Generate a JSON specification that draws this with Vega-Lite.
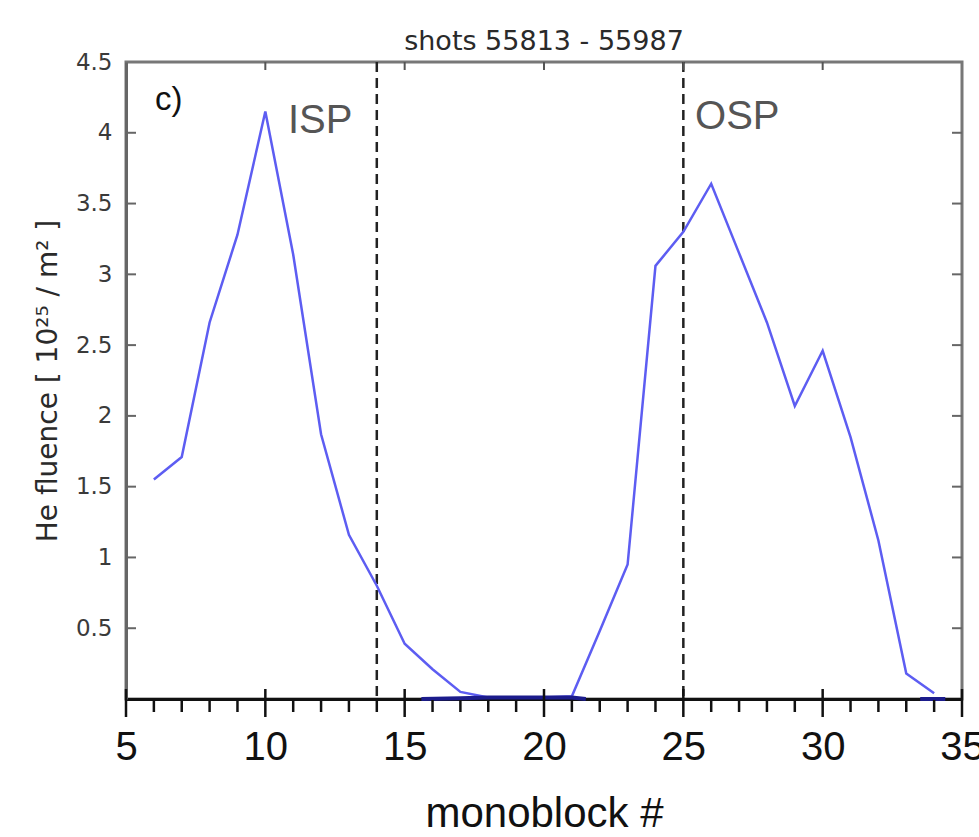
{
  "$schema": "https://vega.github.io/schema/vega-lite/v6.json",
  "width": 836,
  "height": 637,
  "autosize": {"type": "none"},
  "padding": {"left": 126, "top": 62, "right": 17, "bottom": 138},
  "background": "white",
  "title": {"text": "shots 55813 - 55987", "font": "DejaVu Sans", "fontSize": 27, "fontWeight": "normal", "color": "#2a2a2a", "offset": -5, "anchor": "middle"},
  "config": {
    "view": {"stroke": "#777777", "strokeWidth": 3},
    "axis": {"grid": false}
  },
  "datasets": {
    "main": [
      {"m": 6, "f": 1.55}, {"m": 7, "f": 1.71}, {"m": 8, "f": 2.66}, {"m": 9, "f": 3.28},
      {"m": 10, "f": 4.15}, {"m": 11, "f": 3.14}, {"m": 12, "f": 1.87}, {"m": 13, "f": 1.16},
      {"m": 14, "f": 0.8}, {"m": 15, "f": 0.39}, {"m": 16, "f": 0.21}, {"m": 17, "f": 0.05},
      {"m": 18, "f": 0.01}, {"m": 19, "f": 0.01}, {"m": 20, "f": 0.01}, {"m": 21, "f": 0.02},
      {"m": 22, "f": 0.48}, {"m": 23, "f": 0.95}, {"m": 24, "f": 3.06}, {"m": 25, "f": 3.3},
      {"m": 26, "f": 3.64}, {"m": 27, "f": 3.15}, {"m": 28, "f": 2.66}, {"m": 29, "f": 2.07},
      {"m": 30, "f": 2.46}, {"m": 31, "f": 1.85}, {"m": 32, "f": 1.12}, {"m": 33, "f": 0.18},
      {"m": 34, "f": 0.04}
    ],
    "low": [
      {"m": 15.6, "f": 0, "seg": "a"}, {"m": 17, "f": 0.005, "seg": "a"}, {"m": 18, "f": 0.01, "seg": "a"},
      {"m": 19, "f": 0.01, "seg": "a"}, {"m": 20, "f": 0.01, "seg": "a"}, {"m": 21, "f": 0.01, "seg": "a"},
      {"m": 21.5, "f": 0, "seg": "a"},
      {"m": 33.5, "f": 0, "seg": "b"}, {"m": 34.4, "f": 0, "seg": "b"}
    ],
    "rules": [{"m": 14}, {"m": 25}],
    "big": [
      {"t": "ISP", "m": 10.81, "f": 4.085},
      {"t": "OSP", "m": 25.42, "f": 4.11}
    ],
    "panel": [{"t": "c)", "m": 6.04, "f": 4.23}],
    "xmaj": [{"m": 5}, {"m": 10}, {"m": 15}, {"m": 20}, {"m": 25}, {"m": 30}, {"m": 35}],
    "xmin": [
      {"m": 6}, {"m": 7}, {"m": 8}, {"m": 9}, {"m": 11}, {"m": 12}, {"m": 13}, {"m": 14},
      {"m": 16}, {"m": 17}, {"m": 18}, {"m": 19}, {"m": 21}, {"m": 22}, {"m": 23}, {"m": 24},
      {"m": 26}, {"m": 27}, {"m": 28}, {"m": 29}, {"m": 31}, {"m": 32}, {"m": 33}, {"m": 34}
    ],
    "xtop": [{"m": 10}, {"m": 15}, {"m": 20}, {"m": 25}, {"m": 30}],
    "yt": [{"f": 0.5}, {"f": 1}, {"f": 1.5}, {"f": 2}, {"f": 2.5}, {"f": 3}, {"f": 3.5}, {"f": 4}]
  },
  "layer": [
    {
      "data": {"name": "rules"},
      "mark": {"type": "rule", "color": "#222222", "strokeWidth": 2.5, "strokeDash": [10, 6]},
      "encoding": {
        "x": {"field": "m", "type": "quantitative"}
      }
    },
    {
      "data": {"name": "main"},
      "mark": {"type": "line", "color": "#5d5df2", "strokeWidth": 2.5},
      "encoding": {
        "x": {
          "field": "m", "type": "quantitative",
          "scale": {"domain": [5, 35], "nice": false, "zero": false},
          "axis": {
            "orient": "bottom",
            "values": [5, 10, 15, 20, 25, 30, 35],
            "domainColor": "#111111", "domainWidth": 3,
            "ticks": false, "tickSize": 0,
            "labelFont": "Liberation Sans", "labelFontSize": 40, "labelColor": "#111111", "labelPadding": 28,
            "labelFlush": false, "labelOverlap": false,
            "title": "monoblock #", "titleFont": "Liberation Sans", "titleFontSize": 42, "titleFontWeight": "normal",
            "titleColor": "#111111", "titlePadding": 26
          }
        },
        "y": {
          "field": "f", "type": "quantitative",
          "scale": {"domain": [0, 4.5], "nice": false, "zero": false},
          "axis": {
            "orient": "left",
            "values": [0.5, 1, 1.5, 2, 2.5, 3, 3.5, 4, 4.5],
            "format": "~g",
            "domainColor": "#666666", "domainWidth": 3,
            "ticks": false, "tickSize": 0,
            "labelFont": "DejaVu Sans", "labelFontSize": 23, "labelColor": "#3a3a3a", "labelPadding": 14,
            "labelFlush": false, "labelOverlap": false,
            "title": "He fluence [ 10²⁵ / m² ]", "titleFont": "DejaVu Sans", "titleFontSize": 28,
            "titleFontWeight": "normal", "titleColor": "#2a2a2a", "titlePadding": 13
          }
        }
      }
    },
    {
      "data": {"name": "low"},
      "mark": {"type": "line", "color": "#1c1c8c", "strokeWidth": 4},
      "encoding": {
        "x": {"field": "m", "type": "quantitative"},
        "y": {"field": "f", "type": "quantitative"},
        "detail": {"field": "seg"}
      }
    },
    {
      "data": {"name": "xmaj"},
      "mark": {"type": "tick", "orient": "vertical", "color": "#111111", "thickness": 2.5, "size": 28, "yOffset": 4, "opacity": 1},
      "encoding": {
        "x": {"field": "m", "type": "quantitative"},
        "y": {"datum": 0, "type": "quantitative"}
      }
    },
    {
      "data": {"name": "xmin"},
      "mark": {"type": "tick", "orient": "vertical", "color": "#111111", "thickness": 2.5, "size": 12, "yOffset": 7, "opacity": 1},
      "encoding": {
        "x": {"field": "m", "type": "quantitative"},
        "y": {"datum": 0, "type": "quantitative"}
      }
    },
    {
      "data": {"name": "xtop"},
      "mark": {"type": "tick", "orient": "vertical", "color": "#555555", "thickness": 2, "size": 8, "yOffset": 4, "opacity": 1},
      "encoding": {
        "x": {"field": "m", "type": "quantitative"},
        "y": {"datum": 4.5, "type": "quantitative"}
      }
    },
    {
      "data": {"name": "yt"},
      "mark": {"type": "tick", "orient": "horizontal", "color": "#666666", "thickness": 2, "size": 10, "xOffset": 5, "opacity": 1},
      "encoding": {
        "x": {"datum": 5, "type": "quantitative"},
        "y": {"field": "f", "type": "quantitative"}
      }
    },
    {
      "data": {"name": "yt"},
      "mark": {"type": "tick", "orient": "horizontal", "color": "#666666", "thickness": 2, "size": 10, "xOffset": -5, "opacity": 1},
      "encoding": {
        "x": {"datum": 35, "type": "quantitative"},
        "y": {"field": "f", "type": "quantitative"}
      }
    },
    {
      "data": {"name": "big"},
      "mark": {"type": "text", "font": "Liberation Sans", "fontSize": 40, "color": "#555555", "align": "left", "baseline": "middle"},
      "encoding": {
        "x": {"field": "m", "type": "quantitative"},
        "y": {"field": "f", "type": "quantitative"},
        "text": {"field": "t"}
      }
    },
    {
      "data": {"name": "panel"},
      "mark": {"type": "text", "font": "Liberation Sans", "fontSize": 33, "color": "#111111", "align": "left", "baseline": "middle"},
      "encoding": {
        "x": {"field": "m", "type": "quantitative"},
        "y": {"field": "f", "type": "quantitative"},
        "text": {"field": "t"}
      }
    }
  ]
}
